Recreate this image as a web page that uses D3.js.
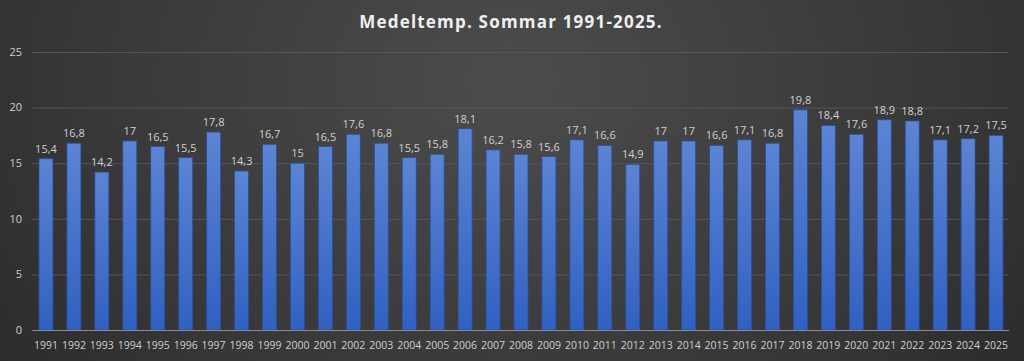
<!DOCTYPE html>
<html>
<head>
<meta charset="utf-8">
<script src="https://cdn.jsdelivr.net/npm/d3@7"></script>
<style>
  html, body { margin: 0; padding: 0; background: #2b2b2b; }
  svg { display: block; }
</style>
</head>
<body>
<div id="chart"></div>
<script>
"use strict";
(function(){
    // data
    const years = ["1991","1992","1993","1994","1995","1996","1997","1998","1999","2000",
        "2001","2002","2003","2004","2005","2006","2007","2008","2009","2010",
        "2011","2012","2013","2014","2015","2016","2017","2018","2019","2020",
        "2021","2022","2023","2024","2025"]
    const temps = [15.4, 16.8, 14.2, 17, 16.5, 15.5, 17.8, 14.3, 16.7, 15,
        16.5, 17.6, 16.8, 15.5, 15.8, 18.1, 16.2, 15.8, 15.6, 17.1,
        16.6, 14.9, 17, 17, 16.6, 17.1, 16.8, 19.8, 18.4, 17.6,
        18.9, 18.8, 17.1, 17.2, 17.5]
    const yTicks = [0, 5, 10, 15, 20, 25]
    const title = "Medeltemp. Sommar 1991-2025."

    const measurements = {
        width: 1024,
        height: 361,
        left: 32,
        right: 1010,
        top: 52,
        bottom: 330
    }
    const font = "'Open Sans', 'DejaVu Sans', sans-serif"

    const svg = d3.select("#chart").append("svg")
        .attr("width", measurements.width)
        .attr("height", measurements.height)

    const defs = svg.append("defs")
    // background: lighter in the middle top, darker edges
    const bg = defs.append("radialGradient")
        .attr("id", "bg")
        .attr("cx", "50%").attr("cy", "20%").attr("r", "75%")
        .attr("gradientTransform", "scale(1,2.2) translate(0,-0.1)")
    bg.append("stop").attr("offset", "0%").attr("stop-color", "#4c4c4c")
    bg.append("stop").attr("offset", "60%").attr("stop-color", "#363636")
    bg.append("stop").attr("offset", "100%").attr("stop-color", "#232323")

    const barGrad = defs.append("linearGradient")
        .attr("id", "bar")
        .attr("x1", 0).attr("y1", 0).attr("x2", 0).attr("y2", 1)
    barGrad.append("stop").attr("offset", "0%").attr("stop-color", "#5b84d4")
    barGrad.append("stop").attr("offset", "100%").attr("stop-color", "#3061c2")

    svg.append("rect")
        .attr("width", measurements.width)
        .attr("height", measurements.height)
        .attr("fill", "url(#bg)")

    const scaleX = d3.scaleBand()
        .domain(years)
        .range([measurements.left, measurements.right])
        .paddingInner(0.5)
        .paddingOuter(0.25)

    const scaleY = d3.scaleLinear()
        .domain([0, 25])
        .range([measurements.bottom, measurements.top])

    // gridlines
    svg.append("g")
        .selectAll("line")
        .data(yTicks.filter(d => d > 0))
        .enter().append("line")
        .attr("x1", measurements.left)
        .attr("x2", measurements.right - 2)
        .attr("y1", d => scaleY(d) + 0.5)
        .attr("y2", d => scaleY(d) + 0.5)
        .attr("stroke", "#555555")
        .attr("stroke-width", 1)

    // y tick labels
    svg.append("g")
        .selectAll("text")
        .data(yTicks)
        .enter().append("text")
        .attr("x", 22)
        .attr("y", d => scaleY(d))
        .attr("dy", "0.35em")
        .attr("text-anchor", "end")
        .attr("fill", "#d0d0d0")
        .style("font-family", font)
        .style("font-size", "11px")
        .text(d => d)

    // bars
    svg.append("g")
        .selectAll("rect")
        .data(temps)
        .enter().append("rect")
        .attr("x", (d, i) => scaleX(years[i]))
        .attr("y", d => scaleY(d))
        .attr("width", scaleX.bandwidth())
        .attr("height", d => scaleY(0) - scaleY(d))
        .attr("fill", "url(#bar)")
        .attr("stroke", "#2a4f9c")
        .attr("stroke-width", 0.8)

    // value labels
    svg.append("g")
        .selectAll("text")
        .data(temps)
        .enter().append("text")
        .attr("x", (d, i) => scaleX(years[i]) + scaleX.bandwidth() / 2)
        .attr("y", d => scaleY(d) - 6)
        .attr("text-anchor", "middle")
        .attr("fill", "#d0d0d0")
        .style("font-family", font)
        .style("font-size", "11px")
        .text(d => String(d).replace(".", ","))

    // baseline
    svg.append("line")
        .attr("x1", measurements.left)
        .attr("x2", measurements.right - 1)
        .attr("y1", scaleY(0) + 0.5)
        .attr("y2", scaleY(0) + 0.5)
        .attr("stroke", "#8c8c8c")
        .attr("stroke-width", 1.2)

    // x axis labels
    svg.append("g")
        .selectAll("text")
        .data(years)
        .enter().append("text")
        .attr("x", d => scaleX(d) + scaleX.bandwidth() / 2)
        .attr("y", 345)
        .attr("dy", "0.35em")
        .attr("text-anchor", "middle")
        .attr("fill", "#d0d0d0")
        .style("font-family", font)
        .style("font-size", "10.5px")
        .text(d => d)

    // title
    svg.append("text")
        .attr("x", 511)
        .attr("y", 22)
        .attr("dy", "0.35em")
        .attr("text-anchor", "middle")
        .attr("fill", "#f0f0f0")
        .style("font-family", font)
        .style("font-size", "17px")
        .style("font-weight", "bold")
        .style("letter-spacing", "1.2px")
        .text(title)
})()
</script>
</body>
</html>
